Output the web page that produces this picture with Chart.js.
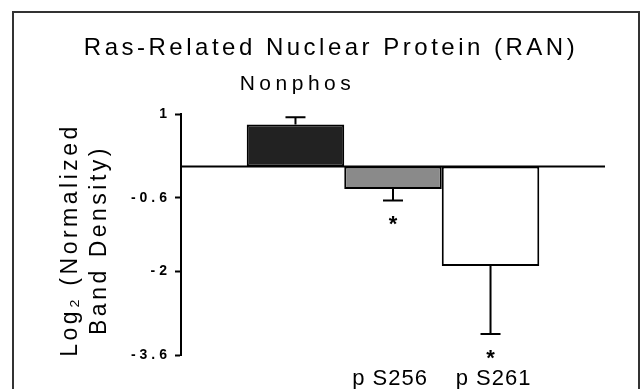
<!DOCTYPE html>
<html>
<head>
<meta charset="utf-8">
<title>RAN band density</title>
<script src="https://cdn.jsdelivr.net/npm/chart.js@4.4.1/dist/chart.umd.min.js"></script>
<style>
  html, body { margin: 0; padding: 0; background: #fff; }
  #wrap { width: 643px; height: 389px; }
</style>
</head>
<body>
<div id="wrap"><canvas id="ranChart" width="643" height="389"></canvas></div>
<script>
// log2 of normalized band density, mean and error per form
const forms = ['Nonphos', 'p S256', 'p S261'];
const means = [0.8, -0.43, -1.9];
const errors = [0.14, 0.22, 1.3];
const significant = [false, true, true];
const fills = ['#222222', '#8a8a8a', '#ffffff'];
const yTicks = [1, -0.6, -2, -3.6];

const FONT = '"Liberation Sans", Arial, sans-serif';

// error whiskers, zero line, titles, labels and the frame
const annotate = {
    id: 'annotate',
    beforeDraw(chart) {
        // spaced-out tick text on the y axis
        chart.ctx.letterSpacing = '4px';
    },
    beforeDatasetsDraw(chart) {
        chart.ctx.letterSpacing = '0px';
    },
    afterDatasetsDraw(chart) {
        const ctx = chart.ctx;
        const y = chart.scales.y;
        const area = chart.chartArea;
        ctx.save();
        ctx.strokeStyle = '#000';
        ctx.lineWidth = 2;

        // zero line
        const y0 = y.getPixelForValue(0);
        ctx.beginPath();
        ctx.moveTo(area.left, y0);
        ctx.lineTo(area.right, y0);
        ctx.stroke();

        ctx.fillStyle = '#000';
        means.forEach((m, i) => {
            const bar = chart.getDatasetMeta(i).data[0];
            const dir = m >= 0 ? 1 : -1;
            const yBar = y.getPixelForValue(m);
            const yEnd = y.getPixelForValue(m + dir * errors[i]);
            ctx.beginPath();
            ctx.moveTo(bar.x, yBar);
            ctx.lineTo(bar.x, yEnd);
            ctx.moveTo(bar.x - 10, yEnd);
            ctx.lineTo(bar.x + 10, yEnd);
            ctx.stroke();

            if (significant[i]) {
                ctx.font = 'bold 22px ' + FONT;
                ctx.textAlign = 'center';
                ctx.textBaseline = 'alphabetic';
                ctx.fillText('*', bar.x, yEnd + 31);
            }
        });
        ctx.restore();
    },
    afterDraw(chart) {
        const ctx = chart.ctx;
        ctx.save();
        ctx.fillStyle = '#000';
        ctx.textBaseline = 'alphabetic';
        ctx.textAlign = 'center';

        ctx.font = '24px ' + FONT;
        ctx.letterSpacing = '3.5px';
        ctx.fillText('Ras-Related Nuclear Protein (RAN)', 331, 55);

        // form labels: first above its bar, the rest under the plot
        const xs = forms.map((f, i) => chart.getDatasetMeta(i).data[0].x);
        ctx.font = '21px ' + FONT;
        ctx.letterSpacing = '4.5px';
        ctx.fillText(forms[0], xs[0] + 2, 90);
        ctx.font = '22px ' + FONT;
        ctx.letterSpacing = '1px';
        ctx.fillText(forms[1], xs[1] - 3, 385);
        ctx.fillText(forms[2], xs[2] + 3, 385);

        // two-line y axis title
        ctx.font = '23px ' + FONT;
        ctx.letterSpacing = '3.5px';
        ctx.translate(0, 240);
        ctx.rotate(-Math.PI / 2);
        ctx.textBaseline = 'middle';
        ctx.fillText('Log\u2082 (Normalized', 0, 71);
        ctx.fillText('Band Density)', 0, 100);
        ctx.restore();

        // outer frame
        ctx.save();
        ctx.letterSpacing = '0px';
        ctx.strokeStyle = '#333';
        ctx.lineWidth = 2;
        ctx.beginPath();
        ctx.moveTo(13, 400);
        ctx.lineTo(13, 12);
        ctx.lineTo(639, 12);
        ctx.lineTo(639, 400);
        ctx.stroke();
        ctx.restore();
    }
};

new Chart(document.getElementById('ranChart'), {
    type: 'bar',
    data: {
        labels: ['RAN'],
        datasets: forms.map((f, i) => ({
            label: f,
            data: [means[i]],
            backgroundColor: fills[i],
            borderColor: '#000',
            borderWidth: 2,
            borderSkipped: false,
            categoryPercentage: 0.69,
            barPercentage: 1
        }))
    },
    options: {
        responsive: false,
        animation: false,
        layout: { padding: { top: 114, bottom: 34, left: 0, right: 38 } },
        plugins: {
            legend: { display: false },
            tooltip: { enabled: false }
        },
        scales: {
            x: { display: false },
            y: {
                min: -3.6,
                max: 1,
                afterFit(scale) { scale.width = 181; },
                afterBuildTicks(scale) {
                    scale.ticks = yTicks.map(v => ({ value: v }));
                },
                grid: {
                    drawOnChartArea: false,
                    tickLength: 6,
                    tickWidth: 2,
                    color: '#000'
                },
                border: { display: true, color: '#000', width: 2 },
                ticks: {
                    color: '#000',
                    padding: 4,
                    font: { family: FONT, size: 14, weight: 'bold' },
                    callback: v => String(v)
                }
            }
        }
    },
    plugins: [annotate]
});
</script>
</body>
</html>
